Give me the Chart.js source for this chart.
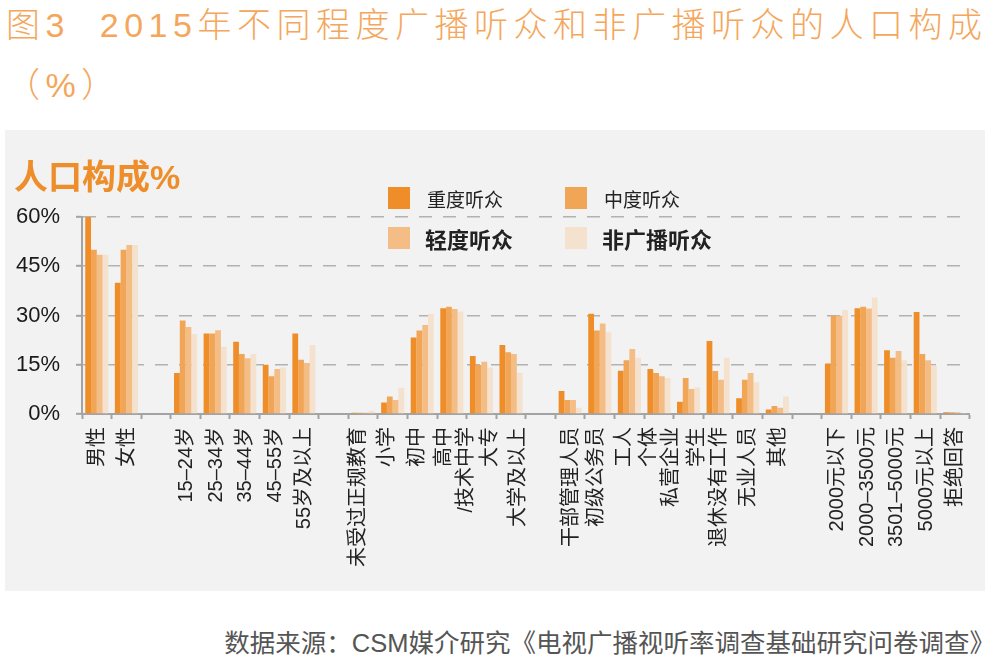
<!DOCTYPE html>
<html>
<head>
<meta charset="utf-8">
<script src="https://cdn.jsdelivr.net/npm/chart.js@4.4.1/dist/chart.umd.min.js"></script>
<style>
  body { margin: 0; width: 995px; height: 669px; background: #fff; position: relative; overflow: hidden;
         font-family: "Liberation Sans", "Noto Sans CJK SC", sans-serif; }
  #title { position: absolute; left: 6px; top: -5px; color: #F4A75C; font-size: 34px; font-weight: 300;
           line-height: 60px; white-space: nowrap; letter-spacing: 5.5px; }
  #panel { position: absolute; left: 5px; top: 130px; width: 980px; height: 461px; background: #F2F2F2; }
  #myChart { position: absolute; left: 0; top: 0; }
  #ytitle { position: absolute; left: 9px; top: 20px; color: #EE8E2B; font-size: 34px; font-weight: 700; }
  .leg { position: absolute; white-space: nowrap; color: #222; }
  .leg span.box { position: absolute; left: 0; width: 22px; height: 22px; }
  #source { position: absolute; right: 0px; top: 622px; color: #555; font-size: 25.5px; white-space: nowrap; }
</style>
</head>
<body>
<div id="title">图3&nbsp;&nbsp;2015年不同程度广播听众和非广播听众的人口构成<br>（%）</div>
<div id="panel">
  <canvas id="myChart" width="980" height="461"></canvas>
  <div id="ytitle">人口构成%</div>
  <div id="legend"></div>
</div>
<div id="source">数据来源：CSM媒介研究《电视广播视听率调查基础研究问卷调查》</div>
<script>
var categories = ['男性', '女性', '',
  '15–24岁', '25–34岁', '35–44岁', '45–55岁', '55岁及以上', '',
  '未受过正规教育', '小学', '初中', ['高中', '/技术中学'], '大专', '大学及以上', '',
  '干部管理人员', '初级公务员', '工人', ['个体', '私营企业'], '学生', '退休没有工作', '无业人员', '其他', '',
  '2000元以下', '2000–3500元', '3501–5000元', '5000元以上', '拒绝回答'];

var seriesNames = ['重度听众', '中度听众', '轻度听众', '非广播听众'];
var seriesColors = ['#EF8E28', '#F1A557', '#F4BD86', '#F4E1CE'];

var heavy  = [60, 40, null, 12.5, 24.5, 22, 15, 24.5, null, 0.4, 3.5, 23.3, 32.2, 17.7, 21, null,
              7, 30.5, 13.2, 13.7, 3.7, 22.2, 4.8, 1.4, null, 15.4, 32.2, 19.4, 31.1, 0.5];
var medium = [50, 50, null, 28.5, 24.5, 18.3, 11.5, 16.5, null, 0.4, 5.3, 25.4, 32.7, 14.9, 18.8, null,
              4.3, 25.4, 16.4, 12.5, 11, 13.1, 10.4, 2.4, null, 29.9, 32.7, 17.1, 18.3, 0.5];
var light  = [48.5, 51.5, null, 26.5, 25.5, 17, 13.7, 15.5, null, 0.4, 4.3, 27.1, 32, 15.9, 18.3, null,
              4.3, 27.6, 19.8, 11.5, 7.6, 10.4, 12.5, 1.9, null, 29.9, 32.1, 19.2, 16.4, 0.5];
var nonListener = [48.5, 51.5, null, 24.4, 20.5, 18.3, 14.2, 21, null, 1, 8, 30.5, 31.2, 14.2, 12.6, null,
              1.9, 24.9, 17.1, 11, 8.1, 17.1, 9.7, 5.3, null, 31.7, 35.5, 16.4, 14.8, 0.3];

var yTicks = [0, 15, 30, 45, 60];

var allSeries = [heavy, medium, light, nonListener];
var fontFamily = '"Liberation Sans", "Noto Sans CJK SC", sans-serif';
var xFontSize = 20, xLineHeight = 1.1;

// the source squeezes labels sideways round the two-line ones; px nudges keyed by first line
var labelShift = { '未受过正规教育': -6, '小学': -6, '初中': -6, '高中': -8, '大专': 8, '大学及以上': 6,
                   '初级公务员': -4, '工人': -6, '个体': -10, '学生': 8 };

var nudgeLabels = {
    id: 'nudgeLabels',
    beforeDraw: function (chart) {
        var items = chart.scales.x.getLabelItems();
        items.forEach(function (it) {
            if (it._shifted) return;
            var first = Array.isArray(it.label) ? it.label[0] : it.label;
            it.options.translation[0] += 1 + (labelShift[first] || 0);
            it._shifted = true;
        });
    }
};

var ctx = document.getElementById("myChart");

var myChart = new Chart(ctx, {
    type: 'bar',
    data: {
        labels: categories,
        datasets: allSeries.map(function (d, i) {
            return {
                label: seriesNames[i],
                data: d,
                backgroundColor: seriesColors[i],
                borderWidth: 0,
                barPercentage: 1.0,
                categoryPercentage: 0.78
            };
        })
    },
    plugins: [nudgeLabels],
    options: {
        responsive: false,
        animation: false,
        layout: { padding: { top: 87, right: 10, left: 0, bottom: 0 } },
        plugins: {
            legend: { display: false },
            tooltip: { enabled: false }
        },
        scales: {
            x: {
                grid: { drawOnChartArea: false, tickLength: 5, tickColor: '#a3a3a3', tickWidth: 2 },
                border: { color: '#a3a3a3', width: 2 },
                ticks: {
                    autoSkip: false, maxRotation: 90, minRotation: 90, padding: 8,
                    color: '#222', font: { family: fontFamily, size: xFontSize, lineHeight: xLineHeight }
                },
                afterFit: function (scale) { scale.height = 177; }
            },
            y: {
                min: 0, max: 60,
                afterBuildTicks: function (scale) {
                    scale.ticks = yTicks.map(function (v) { return { value: v }; });
                },
                grid: {
                    color: function (c) { return c.tick && c.tick.value === 0 ? 'rgba(0,0,0,0)' : '#b2b2b2'; },
                    lineWidth: 1.6, tickLength: 6, tickColor: '#a3a3a3', tickWidth: 2
                },
                border: { color: '#a3a3a3', width: 2, dash: [13, 11] },
                ticks: {
                    padding: 16, color: '#1a1a1a',
                    font: { family: fontFamily, size: 22 },
                    callback: function (v) { return v + '%'; }
                },
                afterFit: function (scale) { scale.width = 77; }
            }
        }
    }
});

// legend laid out 2x2 as in the source, over the top of the plot
var legendPos = [
    { left: 383, top: 57, size: 19, weight: 400 },
    { left: 560, top: 57, size: 19, weight: 400 },
    { left: 383, top: 97, size: 22, weight: 700 },
    { left: 560, top: 97, size: 22, weight: 700 }
];
var legend = document.getElementById('legend');
myChart.data.datasets.forEach(function (ds, i) {
    var p = legendPos[i];
    var item = document.createElement('div');
    item.className = 'leg';
    item.style.left = p.left + 'px';
    item.style.top = p.top + 'px';
    item.style.height = '22px';
    item.innerHTML = '<span class="box" style="background:' + ds.backgroundColor + '"></span>' +
        '<span style="position:absolute;left:' + (i < 2 ? 39 : 37) + 'px;top:50%;transform:translateY(-50%);font-size:' +
        p.size + 'px;font-weight:' + p.weight + '">' + ds.label + '</span>';
    legend.appendChild(item);
});
</script>
</body>
</html>
